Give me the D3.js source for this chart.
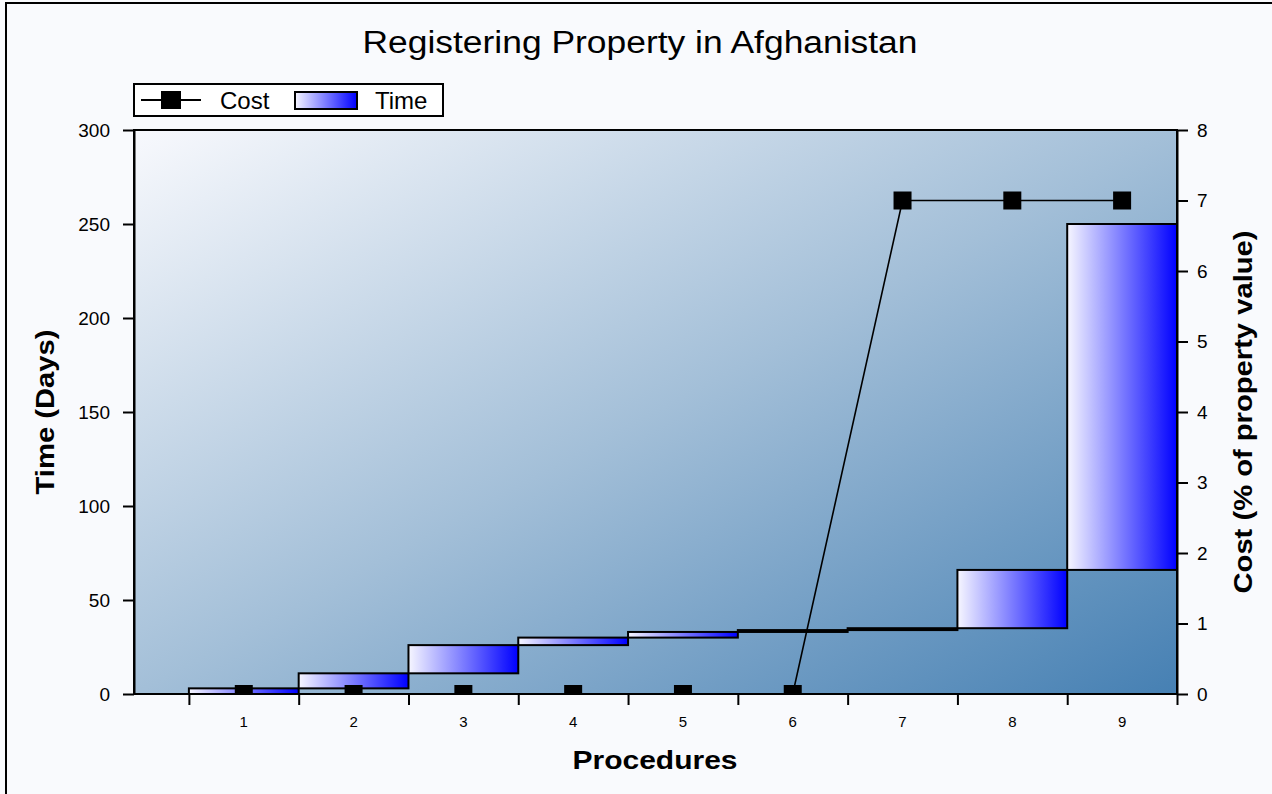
<!DOCTYPE html>
<html>
<head>
<meta charset="utf-8">
<script src="https://cdn.jsdelivr.net/npm/d3@7"></script>
<style>
  html, body { margin: 0; padding: 0; background: #f9fafd; }
  svg { display: block; }
  text { font-family: "Liberation Sans", Arial, sans-serif; fill: #000; }
</style>
</head>
<body>
<svg id="chart" width="1272" height="794"></svg>
<script>
// ---- data ----
const procedures = ["1", "2", "3", "4", "5", "6", "7", "8", "9"];
const timeDays   = [3, 8, 15, 4, 3, 1, 1, 31, 184];   // duration of each procedure
const costPct    = [0, 0, 0, 0, 0, 0, 7, 7, 7];       // cost (% of property value)
const timeTicks  = [0, 50, 100, 150, 200, 250, 300];
const costTicks  = [0, 1, 2, 3, 4, 5, 6, 7, 8];
const chartTitle = "Registering Property in Afghanistan";

const svg = d3.select("#chart");
const W = 1272, H = 794;
const plot = { left: 134, right: 1177, top: 130, bottom: 694 };

// page background & frame
svg.append("rect").attr("x", 0).attr("y", 0).attr("width", W).attr("height", H).attr("fill", "#f9fafd");
svg.append("rect").attr("x", 6).attr("y", 3).attr("width", W + 20).attr("height", H + 20)
  .attr("fill", "none").attr("stroke", "#000").attr("stroke-width", 2);

const defs = svg.append("defs");
const bg = defs.append("linearGradient").attr("id", "bgGrad")
  .attr("x1", 0).attr("y1", 0).attr("x2", 1).attr("y2", 1);
bg.append("stop").attr("offset", 0).attr("stop-color", "#f8f9fd");
bg.append("stop").attr("offset", 0.5).attr("stop-color", "#a3bfd8");
bg.append("stop").attr("offset", 1).attr("stop-color", "#4680b3");

const barGrad = defs.append("linearGradient").attr("id", "barGrad")
  .attr("x1", 0).attr("y1", 0).attr("x2", 1).attr("y2", 0);
barGrad.append("stop").attr("offset", 0).attr("stop-color", "#f6f6ff");
barGrad.append("stop").attr("offset", 1).attr("stop-color", "#0000ff");

defs.append("clipPath").attr("id", "plotClip").append("rect")
  .attr("x", plot.left).attr("y", plot.top)
  .attr("width", plot.right - plot.left).attr("height", plot.bottom - plot.top);

// scales
const x = d3.scaleLinear().domain([-0.5, procedures.length]).range([plot.left, plot.right]);
const yTime = d3.scaleLinear().domain([0, 300]).range([plot.bottom, plot.top]);
const yCost = d3.scaleLinear().domain([0, 8]).range([plot.bottom, plot.top]);

// plot background
svg.append("rect").attr("x", plot.left).attr("y", plot.top)
  .attr("width", plot.right - plot.left).attr("height", plot.bottom - plot.top)
  .attr("fill", "url(#bgGrad)");

// waterfall bars
const ends = Array.from(d3.cumsum(timeDays));
const bars = procedures.map((p, i) => ({ p, i, start: ends[i] - timeDays[i], end: ends[i] }));
svg.append("g").attr("clip-path", "url(#plotClip)")
  .selectAll("rect").data(bars).join("rect")
  .attr("x", d => x(d.i)).attr("width", d => x(d.i + 1) - x(d.i))
  .attr("y", d => yTime(d.end)).attr("height", d => yTime(d.start) - yTime(d.end))
  .attr("fill", "url(#barGrad)").attr("stroke", "#000").attr("stroke-width", 2);

// cost line and markers
const gCost = svg.append("g").attr("clip-path", "url(#plotClip)");
const line = d3.line().x((d, i) => x(i + 0.5)).y(d => yCost(d));
gCost.append("path").datum(costPct).attr("d", line)
  .attr("fill", "none").attr("stroke", "#000").attr("stroke-width", 1.6);
gCost.selectAll("rect").data(costPct).join("rect")
  .attr("x", (d, i) => x(i + 0.5) - 9).attr("y", d => yCost(d) - 9)
  .attr("width", 18).attr("height", 18).attr("fill", "#000");

// plot frame
svg.append("rect").attr("x", plot.left).attr("y", plot.top)
  .attr("width", plot.right - plot.left).attr("height", plot.bottom - plot.top)
  .attr("fill", "none").attr("stroke", "#000").attr("stroke-width", 2);

// left axis
const axL = svg.append("g").attr("transform", `translate(${plot.left},0)`)
  .call(d3.axisLeft(yTime).tickValues(timeTicks).tickSize(11).tickSizeOuter(0).tickPadding(13));
axL.select(".domain").attr("stroke-width", 2);
axL.selectAll(".tick line").attr("stroke-width", 2);
axL.selectAll(".tick text").attr("font-size", 19).attr("font-family", "Liberation Sans, Arial, sans-serif");

// right axis
const axR = svg.append("g").attr("transform", `translate(${plot.right},0)`)
  .call(d3.axisRight(yCost).tickValues(costTicks).tickSize(11).tickSizeOuter(0).tickPadding(9));
axR.select(".domain").attr("stroke-width", 2);
axR.selectAll(".tick line").attr("stroke-width", 2);
axR.selectAll(".tick text").attr("font-size", 19).attr("font-family", "Liberation Sans, Arial, sans-serif");

// bottom axis: ticks at procedure boundaries, labels at centres
const axB = svg.append("g").attr("transform", `translate(0,${plot.bottom})`)
  .call(d3.axisBottom(x).tickValues(d3.range(0, procedures.length + 1)).tickSize(11).tickSizeOuter(0).tickFormat(""));
axB.select(".domain").remove();
axB.selectAll(".tick line").attr("stroke-width", 2);
svg.append("g").selectAll("text").data(procedures).join("text")
  .attr("x", (d, i) => x(i + 0.5)).attr("y", 727)
  .attr("text-anchor", "middle").attr("font-size", 15).text(d => d);

// titles
svg.append("text").attr("x", 640).attr("y", 53).attr("text-anchor", "middle")
  .attr("font-size", 31).attr("textLength", 555).attr("lengthAdjust", "spacingAndGlyphs")
  .text(chartTitle);
svg.append("text").attr("x", 655).attr("y", 769).attr("text-anchor", "middle")
  .attr("font-size", 25).attr("font-weight", "bold").attr("textLength", 165).attr("lengthAdjust", "spacingAndGlyphs")
  .text("Procedures");
svg.append("text").attr("transform", `translate(54,${(plot.top + plot.bottom) / 2}) rotate(-90)`)
  .attr("text-anchor", "middle").attr("font-size", 25).attr("font-weight", "bold")
  .attr("textLength", 165).attr("lengthAdjust", "spacingAndGlyphs")
  .text("Time (Days)");
svg.append("text").attr("transform", `translate(1252,${(plot.top + plot.bottom) / 2}) rotate(-90)`)
  .attr("text-anchor", "middle").attr("font-size", 25).attr("font-weight", "bold")
  .attr("textLength", 363).attr("lengthAdjust", "spacingAndGlyphs")
  .text("Cost (% of property value)");

// legend
const lg = svg.append("g");
lg.append("rect").attr("x", 134).attr("y", 84).attr("width", 309).attr("height", 32)
  .attr("fill", "#fff").attr("stroke", "#000").attr("stroke-width", 2);
lg.append("line").attr("x1", 141).attr("x2", 201).attr("y1", 100).attr("y2", 100)
  .attr("stroke", "#000").attr("stroke-width", 2);
lg.append("rect").attr("x", 161).attr("y", 91).attr("width", 20).attr("height", 18).attr("fill", "#000");
lg.append("text").attr("x", 220).attr("y", 109).attr("font-size", 24).text("Cost");
lg.append("rect").attr("x", 295).attr("y", 92).attr("width", 62).attr("height", 17)
  .attr("fill", "url(#barGrad)").attr("stroke", "#000").attr("stroke-width", 2);
lg.append("text").attr("x", 375).attr("y", 109).attr("font-size", 24).text("Time");
</script>
</body>
</html>
